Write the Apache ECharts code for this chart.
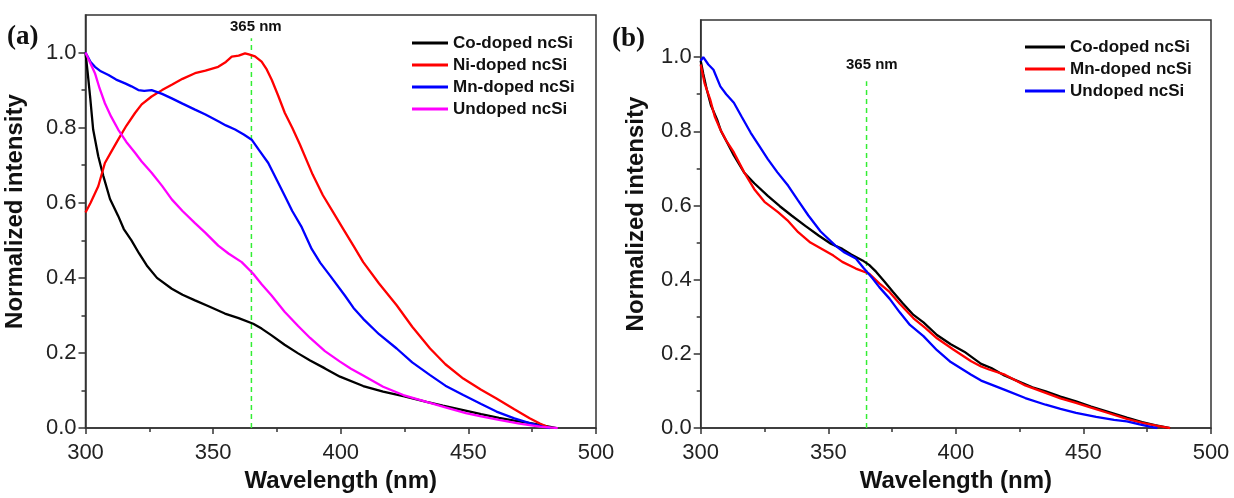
<!DOCTYPE html>
<html><head><meta charset="utf-8">
<script src="https://cdn.jsdelivr.net/npm/echarts@6/dist/echarts.min.js"></script>
<style>html,body{margin:0;padding:0;background:#fff}#c{width:1234px;height:498px}</style>
</head><body><div id="c"></div>
<script>
// ---- tick labels ----
const xTicks = [300, 350, 400, 450, 500];
const yTicks = [0, 0.2, 0.4, 0.6, 0.8, 1.0];
const yMinor = [0.1, 0.3, 0.5, 0.7, 0.9];

// ---- panel (a) ----
const namesA = ['Co-doped ncSi', 'Ni-doped ncSi', 'Mn-doped ncSi', 'Undoped ncSi'];
const coA = [[300,1.0],[300.8,0.95],[301.8,0.883],[303,0.795],[305,0.724],[307,0.671],[309.6,0.61],[312.8,0.565],[315,0.53],[318,0.5],[321,0.465],[324,0.433],[328,0.4],[333.8,0.371],[338,0.355],[342.9,0.34],[348,0.325],[354.6,0.305],[360,0.293],[365.7,0.278],[369,0.265],[372.9,0.247],[378,0.222],[383.3,0.199],[388,0.18],[393.8,0.159],[399.7,0.137],[408.8,0.112],[416.6,0.097],[424.5,0.085],[433.6,0.07],[440,0.06],[448,0.048],[455,0.037],[462,0.027],[468,0.02],[475.4,0.012],[480,0.006],[484.6,0.0]];
const niA = [[300,0.574],[302,0.6],[305,0.644],[307.6,0.706],[310,0.735],[312.8,0.768],[316,0.805],[319.4,0.839],[322,0.862],[325.9,0.883],[330,0.9],[333.8,0.914],[338,0.93],[342.9,0.945],[347,0.952],[352,0.962],[355,0.975],[357.3,0.989],[360,0.992],[362.5,0.998],[364,0.995],[366.4,0.99],[369,0.976],[371,0.955],[373,0.927],[375.5,0.885],[378.1,0.839],[381,0.8],[384,0.755],[389,0.675],[393,0.62],[397,0.575],[401,0.53],[405,0.485],[408.8,0.442],[415,0.385],[421.9,0.327],[428,0.27],[435,0.212],[441,0.17],[448,0.132],[455,0.102],[461,0.079],[468,0.05],[474,0.026],[478,0.012],[482,0.0]];
const mnA = [[300,1.0],[302,0.975],[303.7,0.962],[306,0.95],[309,0.94],[312,0.928],[315.5,0.918],[318,0.91],[320.7,0.9],[323,0.898],[325.9,0.9],[330,0.89],[333.8,0.878],[338,0.864],[342.9,0.848],[347,0.835],[352,0.817],[355,0.806],[358.6,0.795],[362,0.782],[365.1,0.768],[368,0.74],[371.6,0.706],[375,0.66],[378.1,0.618],[381,0.578],[384.7,0.535],[388.6,0.477],[392,0.44],[395.8,0.406],[401.6,0.353],[405,0.32],[408.8,0.291],[415,0.25],[421.9,0.212],[428,0.175],[435,0.141],[441,0.113],[448,0.088],[455,0.064],[461,0.044],[468,0.026],[474,0.013],[479,0.004],[482,0.0]];
const undA = [[300,1.0],[302,0.97],[303.7,0.945],[305.5,0.905],[307.6,0.865],[310,0.83],[312.8,0.795],[316,0.762],[319.4,0.733],[322,0.71],[325.9,0.68],[330,0.645],[333.8,0.609],[338,0.578],[342.9,0.546],[347,0.52],[352,0.486],[356,0.465],[361.2,0.442],[365.7,0.411],[369,0.383],[372.9,0.353],[378,0.31],[383.3,0.272],[388,0.24],[393.8,0.205],[399.7,0.177],[404,0.158],[408.8,0.14],[416.6,0.11],[424.5,0.088],[433.6,0.07],[441,0.055],[449,0.04],[455,0.031],[462,0.022],[470,0.012],[478,0.004],[485,0.0]];
const markA = [[365,0],[365,1.038]];

// ---- panel (b) ----
const namesB = ['Co-doped ncSi', 'Mn-doped ncSi', 'Undoped ncSi'];
const coB = [[300,0.99],[301,0.955],[302.4,0.912],[304,0.87],[306.4,0.832],[308,0.8],[310.4,0.769],[313,0.735],[317,0.689],[321,0.66],[326.3,0.626],[331,0.598],[335.6,0.573],[341,0.545],[346.2,0.519],[351,0.497],[355.5,0.483],[359,0.468],[363.4,0.452],[366,0.44],[368.8,0.421],[372,0.395],[375.4,0.367],[379,0.338],[383.4,0.305],[387.3,0.285],[392.6,0.251],[398,0.226],[403.3,0.206],[409.9,0.173],[413.9,0.162],[419,0.142],[424.5,0.126],[430,0.11],[435.2,0.099],[441,0.085],[447.1,0.072],[453,0.058],[460,0.043],[467,0.028],[473,0.016],[478,0.008],[484,0.0]];
const mnB = [[300,0.98],[301.5,0.93],[303.7,0.886],[305.5,0.84],[307.7,0.805],[310,0.775],[313,0.743],[317,0.69],[321,0.644],[325,0.61],[330.3,0.582],[334,0.56],[338.2,0.528],[343,0.5],[347.5,0.483],[352,0.465],[355.5,0.448],[360.8,0.43],[366.1,0.416],[370,0.39],[374,0.367],[378,0.335],[383.4,0.296],[388,0.27],[392.6,0.242],[399,0.212],[406,0.18],[409.9,0.166],[413,0.158],[419.2,0.144],[427.2,0.115],[435.2,0.095],[441,0.08],[447.1,0.068],[453,0.055],[460,0.04],[467,0.025],[473,0.014],[479,0.006],[484,0.0]];
const undB = [[300,0.99],[301,1.0],[303,0.98],[305,0.966],[307.7,0.921],[310,0.9],[313,0.877],[316,0.84],[319.6,0.796],[323,0.76],[326.3,0.725],[330,0.69],[334.3,0.653],[338,0.615],[342.2,0.573],[347,0.53],[352.8,0.492],[356,0.475],[360.8,0.457],[364,0.43],[367.4,0.403],[370,0.38],[374,0.349],[378,0.312],[382,0.278],[387.3,0.248],[392.6,0.21],[398,0.178],[406,0.144],[409.9,0.128],[419.2,0.103],[427.2,0.081],[435.2,0.063],[441,0.052],[447.1,0.041],[455,0.03],[462,0.022],[467,0.018],[472,0.01],[476,0.004],[479,0.0]];
const markB = [[365,0],[365,0.935]];

const colA = ['#000000', '#ff0000', '#0000ff', '#ff00ff'];
const colB = ['#000000', '#ff0000', '#0000ff'];

const FONT = '"Liberation Sans", Arial, sans-serif';
const axisCol = '#333';

function xAx(gi) {
  return {
    type: 'value', gridIndex: gi, min: 300, max: 500, interval: 50,
    axisLine: { lineStyle: { color: axisCol, width: 1.5 } },
    axisTick: { inside: false, length: 6, lineStyle: { color: axisCol, width: 1.5 } },
    minorTick: { show: true, splitNumber: 2, length: 4, lineStyle: { color: axisCol, width: 1.5 } },
    axisLabel: { fontSize: 22, fontFamily: FONT, color: '#222', margin: 14,
      customValues: xTicks },
    splitLine: { show: false },
    name: 'Wavelength (nm)', nameLocation: 'middle', nameGap: 40,
    nameTextStyle: { fontSize: 24, fontWeight: 'bold', fontFamily: FONT, color: '#111' }
  };
}
function yAx(gi, gap) {
  return {
    type: 'value', gridIndex: gi, min: 0, max: 1.1, interval: 0.2, position: 'left',
    axisLine: { show: true, lineStyle: { color: axisCol, width: 1.5 } },
    axisTick: { show: true, inside: false, length: 7, customValues: yTicks, lineStyle: { color: axisCol, width: 1.5 } },
    axisLabel: { fontSize: 22, fontFamily: FONT, color: '#222', margin: 9,
      customValues: yTicks, formatter: v => v.toFixed(1) },
    splitLine: { show: false },
    name: 'Normalized intensity', nameLocation: 'middle', nameGap: gap,
    nameTextStyle: { fontSize: 24, fontWeight: 'bold', fontFamily: FONT, color: '#111', padding: [0, 0, 0, 20] }
  };
}
function yMinorAx(gi) {
  return {
    type: 'value', gridIndex: gi, min: 0, max: 1.1, interval: 0.1, position: 'left',
    axisLine: { show: false },
    axisTick: { show: true, inside: false, length: 4, customValues: yMinor, lineStyle: { color: axisCol, width: 1.5 } },
    axisLabel: { show: false },
    splitLine: { show: false }
  };
}

function lineSeries(name, data, color, xi, yi) {
  return { type: 'line', name, data, xAxisIndex: xi, yAxisIndex: yi, showSymbol: false,
    symbol: 'none', lineStyle: { color, width: 2.3 }, itemStyle: { color }, z: 3 };
}
function markSeries(data, xi, yi) {
  return { type: 'line', data, xAxisIndex: xi, yAxisIndex: yi, showSymbol: false, symbol: 'none',
    lineStyle: { color: '#33ee33', width: 1.5, type: [5, 4] }, z: 2, silent: true };
}

const series = [];
namesA.forEach((n, i) => series.push(lineSeries(n, [coA, niA, mnA, undA][i], colA[i], 0, 0)));
series.push(markSeries(markA, 0, 0));
namesB.forEach((n, i) => series.push(lineSeries(n, [coB, mnB, undB][i], colB[i], 1, 2)));
series.push(markSeries(markB, 1, 2));

function legend(left, top, names, cols, w) {
  return {
    left, top, orient: 'vertical', itemWidth: w, itemHeight: 3, itemGap: 4, icon: 'rect',
    selectedMode: false,
    textStyle: { fontSize: 17, fontWeight: 'bold', fontFamily: FONT, color: '#111', lineHeight: 18, padding: [0, 0, 0, 0] },
    data: names.map((n, i) => ({ name: n, itemStyle: { color: cols[i] } }))
  };
}

const chart = echarts.init(document.getElementById('c'), null, { renderer: 'canvas' });
chart.setOption({
  animation: false,
  backgroundColor: '#ffffff',
  grid: [
    { left: 85.5, top: 15, width: 510.5, height: 415, show: true, borderColor: axisCol, borderWidth: 1.5, backgroundColor: 'transparent' },
    { left: 700.7, top: 20, width: 510.3, height: 410.3, show: true, borderColor: axisCol, borderWidth: 1.5, backgroundColor: 'transparent' }
  ],
  xAxis: [xAx(0), xAx(1)],
  yAxis: [yAx(0, 58), yMinorAx(0), yAx(1, 52), yMinorAx(1)],
  legend: [legend(407, 29, namesA, colA, 36), legend(1020, 33, namesB, colB, 40)],
  graphic: [
    { type: 'text', left: 7, top: 24, style: { text: '(a)', font: 'bold 27px "Liberation Serif", "Times New Roman", serif', fill: '#111' } },
    { type: 'text', left: 612, top: 26, style: { text: '(b)', font: 'bold 27px "Liberation Serif", "Times New Roman", serif', fill: '#111' } },
    { type: 'text', left: 230, top: 19, style: { text: '365 nm', font: 'bold 15px "Liberation Sans", Arial, sans-serif', fill: '#111' } },
    { type: 'text', left: 846, top: 57, style: { text: '365 nm', font: 'bold 15px "Liberation Sans", Arial, sans-serif', fill: '#111' } }
  ],
  series
});
</script></body></html>
